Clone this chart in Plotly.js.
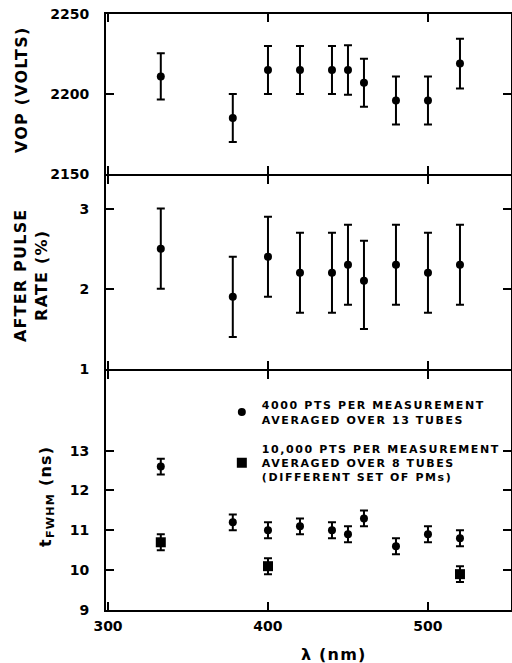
<!DOCTYPE html>
<html>
<head>
<meta charset="utf-8">
<script src="https://cdn.plot.ly/plotly-3.0.1.min.js"></script>
<style>
html, body { margin: 0; padding: 0; background: #fff; }
#chart { width: 512px; height: 663px; }
.legendtext { letter-spacing: 1.6px; }
.annotation-text { letter-spacing: 1.2px; }
</style>
</head>
<body>
<div id="chart"></div>
<script>
// ---- data ----
const wavelength = [333, 378, 400, 420, 440, 450, 460, 480, 500, 520];
const vop = [2211, 2185, 2215, 2215, 2215, 2215, 2207, 2196, 2196, 2219];
const vopErr = [14.5, 15, 15, 15, 15, 15.5, 15, 15, 15, 15.5];
const afterPulse = [2.5, 1.9, 2.4, 2.2, 2.2, 2.3, 2.1, 2.3, 2.2, 2.3];
const afterPulseErrPlus = [0.5, 0.5, 0.5, 0.5, 0.5, 0.5, 0.5, 0.5, 0.5, 0.5];
const afterPulseErrMinus = [0.5, 0.5, 0.5, 0.5, 0.5, 0.5, 0.6, 0.5, 0.5, 0.5];
const fwhm4000 = [12.6, 11.2, 11.0, 11.1, 11.0, 10.9, 11.3, 10.6, 10.9, 10.8];
const fwhm4000Err = [0.2, 0.2, 0.2, 0.2, 0.2, 0.2, 0.2, 0.2, 0.2, 0.2];
const wavelength10k = [333, 400, 520];
const fwhm10k = [10.7, 10.1, 9.9];
const fwhm10kErr = [0.2, 0.2, 0.2];

const xTicks = [300, 400, 500];
const vopTicks = [2150, 2200, 2250];
const apTicks = [1, 2, 3];
const fwhmTicks = [9, 10, 11, 12, 13];

const legend4000 = "4000 PTS PER MEASUREMENT<br>AVERAGED OVER 13 TUBES";
const legend10k = "10,000 PTS PER MEASUREMENT<br>AVERAGED OVER 8 TUBES<br>(DIFFERENT SET OF PMs)";

const FONT = "DejaVu Sans";
const BLACK = "#000";

function errY(plus, minus) {
  const e = {type: "data", array: plus, visible: true, color: BLACK, thickness: 2, width: 4};
  if (minus) { e.symmetric = false; e.arrayminus = minus; }
  return e;
}

const traces = [
  {x: wavelength, y: vop, xaxis: "x3", yaxis: "y3", mode: "markers", type: "scatter",
   marker: {color: BLACK, size: 8}, error_y: errY(vopErr), showlegend: false},
  {x: wavelength, y: afterPulse, xaxis: "x2", yaxis: "y2", mode: "markers", type: "scatter",
   marker: {color: BLACK, size: 8}, error_y: errY(afterPulseErrPlus, afterPulseErrMinus), showlegend: false},
  {x: wavelength, y: fwhm4000, xaxis: "x", yaxis: "y", mode: "markers", type: "scatter",
   name: legend4000, legendgroup: "a",
   marker: {color: BLACK, size: 8}, error_y: errY(fwhm4000Err)},
  {x: wavelength10k, y: fwhm10k, xaxis: "x", yaxis: "y", mode: "markers", type: "scatter",
   name: legend10k, legendgroup: "b",
   marker: {color: BLACK, size: 10, symbol: "square"}, error_y: errY(fwhm10kErr)}
];

const xRange = [298.75, 551.9];
function xAxis(anchor, showLabels) {
  return {
    anchor: anchor, range: xRange, tickvals: xTicks, ticktext: xTicks.map(String),
    showticklabels: showLabels, ticks: "inside", ticklen: 8, tickwidth: 2, tickcolor: BLACK,
    showline: true, linewidth: 2, linecolor: BLACK, mirror: "allticks",
    showgrid: false, zeroline: false, ticklabelstandoff: 2,
    tickfont: {family: FONT, size: 14, color: BLACK, weight: "bold"}
  };
}
function yAxis(anchor, domain, range, ticks) {
  return {
    anchor: anchor, domain: domain, range: range, tickvals: ticks, ticktext: ticks.map(String),
    ticks: "inside", ticklen: 8, tickwidth: 2, tickcolor: BLACK,
    showline: true, linewidth: 2, linecolor: BLACK, mirror: "allticks",
    showgrid: false, zeroline: false, ticklabelstandoff: 12,
    tickfont: {family: FONT, size: 14, color: BLACK, weight: "bold"}
  };
}

const titleFont = {family: FONT, size: 16, color: BLACK, weight: "bold"};
const gap = 0.00168;

const layout = {
  width: 512, height: 663,
  margin: {l: 106, r: 1, t: 14, b: 53},
  paper_bgcolor: "#fff", plot_bgcolor: "#fff",
  showlegend: true,
  legend: {
    x: 0.286, xanchor: "left", y: 0.367, yanchor: "top",
    bgcolor: "rgba(0,0,0,0)", borderwidth: 0,
    font: {family: FONT, size: 11, color: BLACK, weight: "bold"},
    traceorder: "grouped", tracegroupgap: 12, itemwidth: 30
  },
  xaxis: xAxis("y", true),
  xaxis2: xAxis("y2", false),
  xaxis3: xAxis("y3", false),
  yaxis: yAxis("x", [0, 0.4027 - gap], [9, 15], fwhmTicks),
  yaxis2: yAxis("x2", [0.4027 + gap, 0.7299 - gap], [1, 3.407], apTicks),
  yaxis3: yAxis("x3", [0.7299 + gap, 1], [2150, 2250], vopTicks),
  annotations: [
    {text: "VOP (VOLTS)", xref: "paper", yref: "paper", x: -0.2099, y: 0.874,
     textangle: -90, showarrow: false, xanchor: "center", yanchor: "middle", font: titleFont},
    {text: "AFTER PULSE<br>RATE (%)", xref: "paper", yref: "paper", x: -0.185, y: 0.562,
     textangle: -90, showarrow: false, xanchor: "center", yanchor: "middle", font: titleFont},
    {text: "t<sub>FWHM</sub> (ns)", xref: "paper", yref: "paper", x: -0.1457, y: 0.1913,
     textangle: -90, showarrow: false, xanchor: "center", yanchor: "middle", font: titleFont},
    {text: "λ (nm)", xref: "paper", yref: "paper", x: 0.563, y: -0.0755,
     showarrow: false, xanchor: "center", yanchor: "middle", font: titleFont}
  ]
};

Plotly.newPlot("chart", traces, layout, {staticPlot: true, displayModeBar: false});
</script>
</body>
</html>
